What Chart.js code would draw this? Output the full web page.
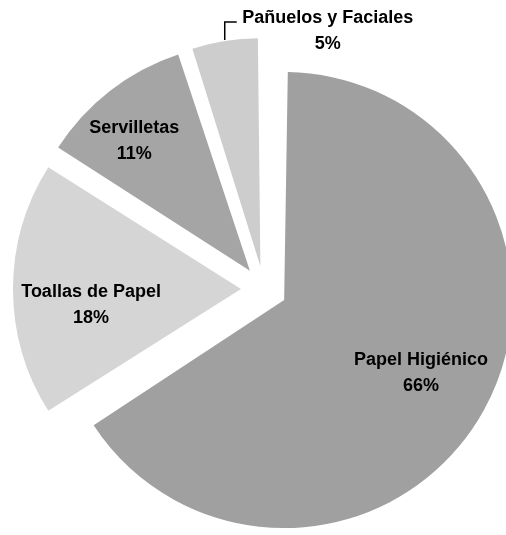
<!DOCTYPE html>
<html>
<head>
<meta charset="utf-8">
<script src="https://cdn.jsdelivr.net/npm/chart.js@4.4.1/dist/chart.umd.min.js"></script>
<style>
  html, body { margin: 0; padding: 0; background: #ffffff; }
  #wrap { width: 506px; height: 535px; position: relative; }
</style>
</head>
<body>
<div id="wrap"><canvas id="pie"></canvas></div>
<script>
// data
var categories = ['Papel Higiénico', 'Toallas de Papel', 'Servilletas', 'Pañuelos y Faciales'];
var shares = [66, 18, 11, 5];

// looks
var sliceColors = ['#a0a0a0', '#d5d5d5', '#a5a5a5', '#cdcdcd'];
var pieRadius = 228;
var explode = 23;          // px each slice is pulled out from the centre
var labelFrac = [0.68, 0.64, 0.77, 0];   // where the label sits along the slice axis
var labelNudge = [[1, -2], [-4, 16], [-8, 9], [0, 0]];
var labelFont = 'bold 18px "Liberation Sans", Arial, sans-serif';

// chart.js moves an arc by offset/4 and also grows thin ones, so use 4x and
// shrink each arc back to the same drawn radius below
var offsets = shares.map(function(){ return explode * 4; });

var evenRadius = {
    id: 'evenRadius',
    afterDatasetsUpdate: function(chart){
        chart.getDatasetMeta(0).data.forEach(function(arc){
            var circ = arc.endAngle - arc.startAngle;
            var fix = 1 - Math.sin(Math.min(Math.PI, circ));
            arc.outerRadius = pieRadius - explode * fix;
        });
    }
};

var sliceLabels = {
    id: 'sliceLabels',
    afterDatasetsDraw: function(chart){
        var ctx = chart.ctx;
        var meta = chart.getDatasetMeta(0);
        ctx.save();
        ctx.font = labelFont;
        ctx.fillStyle = '#000000';
        ctx.textAlign = 'center';
        ctx.textBaseline = 'middle';
        meta.data.forEach(function(arc, i){
            var p = arc.getProps(['x', 'y', 'startAngle', 'endAngle'], true);
            var mid = (p.startAngle + p.endAngle) / 2;
            var ax = p.x + Math.cos(mid) * explode;
            var ay = p.y + Math.sin(mid) * explode;
            var pct = shares[i] + '%';
            if (labelFrac[i] > 0){
                var lx = ax + Math.cos(mid) * pieRadius * labelFrac[i] + labelNudge[i][0];
                var ly = ay + Math.sin(mid) * pieRadius * labelFrac[i] + labelNudge[i][1];
                ctx.fillText(categories[i], lx, ly - 13);
                ctx.fillText(pct, lx, ly + 13);
            } else {
                // small slice: label outside with a leader line
                var ex = ax + Math.cos(mid) * pieRadius;
                var ey = ay + Math.sin(mid) * pieRadius;
                ctx.beginPath();
                ctx.strokeStyle = '#000000';
                ctx.lineWidth = 1.5;
                ctx.moveTo(ex, ey - 1);
                ctx.lineTo(ex, ey - 19);
                ctx.lineTo(ex + 12, ey - 19);
                ctx.stroke();
                ctx.fillText(categories[i], ex + 103, ey - 23);
                ctx.fillText(pct, ex + 103, ey + 3);
            }
        });
        ctx.restore();
    }
};

new Chart(document.getElementById('pie').getContext('2d'), {
    type: 'pie',
    data: {
        labels: categories,
        datasets: [{
            data: shares,
            backgroundColor: sliceColors,
            borderWidth: 0,
            offset: offsets,
            hoverOffset: 0,
            radius: pieRadius
        }]
    },
    options: {
        responsive: true,
        maintainAspectRatio: false,
        animation: false,
        layout: {
            padding: { left: 22, top: 43, right: 0, bottom: 0 }
        },
        plugins: {
            legend: { display: false },
            tooltip: { enabled: false }
        }
    },
    plugins: [evenRadius, sliceLabels]
});
</script>
</body>
</html>
